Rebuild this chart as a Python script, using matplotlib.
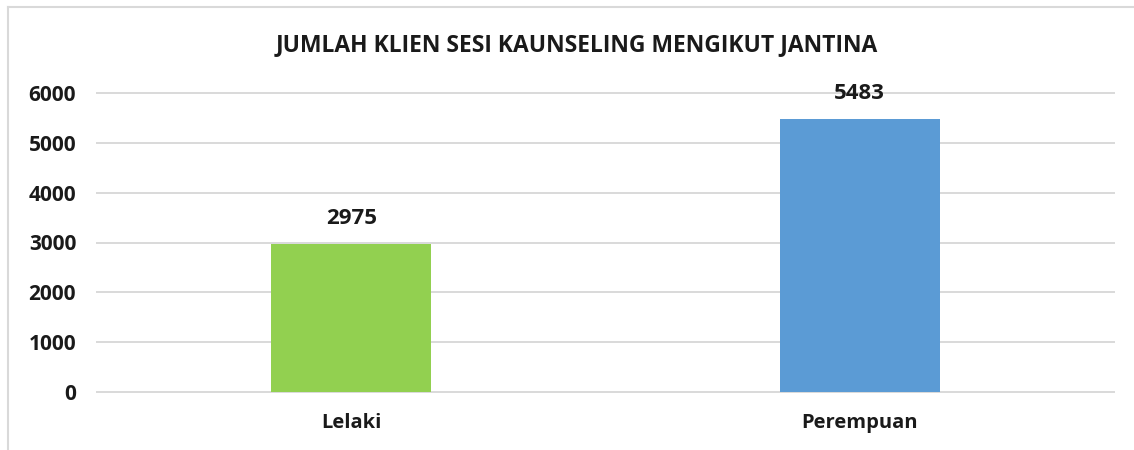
import matplotlib.pyplot as plt
from matplotlib.lines import Line2D

# data
categories = ["Lelaki", "Perempuan"]
clients = [2975, 5483]
bar_colors = ["#92D050", "#5B9BD5"]
yticks = [0, 1000, 2000, 3000, 4000, 5000, 6000]
title = "JUMLAH KLIEN SESI KAUNSELING MENGIKUT JANTINA"

plt.rcParams['font.family'] = ['Open Sans', 'DejaVu Sans']
plt.rcParams['font.weight'] = 'bold'

fig = plt.figure(figsize=(11.34, 4.5), dpi=100)
ax = fig.add_axes([97 / 1134, 1 - 392 / 450, (1114 - 97) / 1134, (392 - 93) / 450])

x = range(len(categories))
bars = ax.bar(x, clients, width=0.315, color=bar_colors, zorder=3)

ax.set_xlim(-0.5, len(categories) - 0.5)
ax.set_ylim(0, 6000)
ax.set_yticks(yticks)
ax.set_yticklabels([str(t) for t in yticks], fontsize=15, fontweight='bold', color='#1a1a1a')
ax.set_xticks(list(x))
ax.set_xticklabels(categories, fontsize=14.5, fontweight='bold', color='#1a1a1a')
ax.tick_params(axis='both', length=0)
ax.tick_params(axis='y', pad=15)
ax.tick_params(axis='x', pad=15)

for s in ax.spines.values():
    s.set_visible(False)
ax.yaxis.grid(True, color='#D9D9D9', linewidth=1.4, zorder=0)
for gl in ax.get_ygridlines():
    gl.set_clip_on(False)

for b, v in zip(bars, clients):
    ax.annotate(str(v), (b.get_x() + b.get_width() / 2, v), xytext=(0, 18),
                textcoords='offset points', ha='center', va='center',
                fontsize=16, fontweight='bold', color='#1a1a1a')

fig.text(0.509, 1 - 45 / 450, title, ha='center', va='center',
         fontsize=16.5, fontweight='bold', color='#1a1a1a')

# chart frame (top and left edges visible)
fig.add_artist(Line2D([8 / 1134, 1], [1 - 7 / 450, 1 - 7 / 450], color='#D9D9D9', linewidth=1.5))
fig.add_artist(Line2D([8 / 1134, 8 / 1134], [0, 1 - 7 / 450], color='#D9D9D9', linewidth=1.5))

fig.savefig("out.png", dpi=100)
